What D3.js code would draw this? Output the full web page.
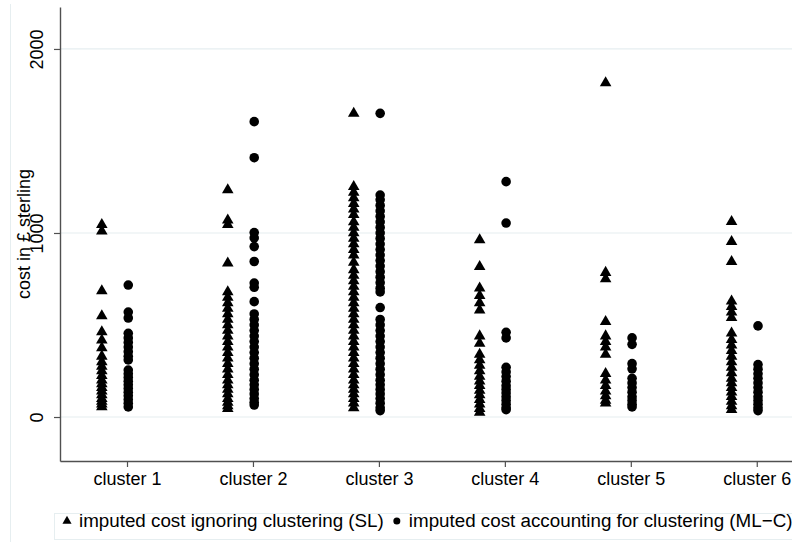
<!DOCTYPE html>
<html>
<head>
<meta charset="utf-8">
<script src="https://cdn.jsdelivr.net/npm/d3@7"></script>
<style>
  body { margin: 0; background: #fff; }
  text { font-family: "Liberation Sans", Arial, sans-serif; fill: #000; }
</style>
</head>
<body>
<div id="visualization"></div>
<script>
// categories on the x axis
const categories = ["cluster 1", "cluster 2", "cluster 3", "cluster 4", "cluster 5", "cluster 6"];

// imputed cost ignoring clustering (SL), one list per cluster
const slCosts = [
    [1045, 1010, 685, 549, 462, 418, 375, 330, 300, 275, 250, 225, 200, 180, 160, 140, 120, 100, 85, 70, 55],
    [1234, 1070, 1045, 836, 680, 650, 620, 590, 560, 530, 500, 470, 440, 410, 380, 350, 320, 290, 260, 230, 200, 175, 150, 125, 100, 80, 60, 45],
    [1650, 1252, 1220, 1190, 1160, 1130, 1100, 1060, 1030, 1000, 970, 940, 910, 880, 840, 800, 770, 740, 710, 680, 650, 620, 590, 560, 530, 500, 470, 440, 410, 380, 350, 320, 290, 260, 230, 200, 175, 150, 125, 100, 75, 50],
    [962, 817, 700, 660, 620, 580, 440, 400, 340, 310, 280, 250, 220, 195, 170, 145, 120, 95, 70, 45, 25],
    [1815, 785, 750, 518, 440, 410, 380, 340, 235, 200, 170, 140, 115, 90, 75],
    [1061, 953, 844, 630, 600, 570, 540, 455, 420, 390, 360, 330, 300, 270, 240, 210, 185, 160, 135, 110, 85, 60, 40]
];

// imputed cost accounting for clustering (ML-C), one list per cluster
const mlcCosts = [
    [717, 570, 538, 455, 430, 405, 380, 355, 330, 310, 255, 235, 215, 195, 175, 155, 135, 115, 95, 75, 55],
    [1605, 1409, 1002, 973, 926, 845, 728, 705, 627, 560, 530, 500, 470, 440, 410, 380, 350, 320, 290, 260, 230, 200, 175, 150, 125, 100, 80, 65],
    [1650, 1206, 1180, 1150, 1120, 1090, 1060, 1030, 1000, 970, 940, 910, 880, 850, 820, 790, 760, 730, 700, 680, 595, 530, 500, 470, 440, 410, 380, 350, 320, 290, 260, 230, 200, 175, 150, 125, 100, 75, 50, 35],
    [1279, 1054, 460, 430, 270, 245, 220, 195, 170, 150, 130, 110, 90, 70, 50, 40],
    [430, 395, 290, 262, 210, 185, 160, 135, 110, 90, 70, 55],
    [495, 285, 260, 235, 210, 185, 160, 135, 110, 90, 70, 50, 35]
];

const yTicks = [0, 1000, 2000];
const yTitle = "cost in £ sterling";
const legendLabels = ["imputed cost ignoring clustering (SL)", "imputed cost accounting for clustering (ML\u2212C)"];

function createStripChart() {
    const width = 792;
    const height = 542;
    const fontSize = 18;
    const legendFontSize = 18.8;
    const gridColor = "#e6eef0";
    const axisColor = "#505050";

    const svg = d3.select("#visualization")
        .append("svg")
        .attr("width", width)
        .attr("height", height);

    // faint outline of the graph region
    svg.append("line")
        .attr("x1", 10.5).attr("x2", 10.5)
        .attr("y1", 4).attr("y2", height)
        .attr("stroke", gridColor);

    // scales: cluster index -> x, cost -> y
    const xScale = d3.scaleLinear()
        .domain([0.468, 6.78])
        .range([60, 855]);

    const yScale = d3.scaleLinear()
        .domain([-239, 2228])
        .range([461, 7]);

    // grid lines
    svg.append("g")
        .selectAll("line")
        .data(yTicks)
        .enter()
        .append("line")
        .attr("x1", 61).attr("x2", width)
        .attr("y1", d => yScale(d)).attr("y2", d => yScale(d))
        .attr("stroke", gridColor)
        .attr("stroke-width", 1.2);

    // y axis
    const yAxis = svg.append("g")
        .attr("transform", "translate(60,0)")
        .call(d3.axisLeft(yScale).tickValues(yTicks).tickSize(6).tickSizeOuter(0).tickFormat(d3.format("d")));
    yAxis.select(".domain").attr("stroke", axisColor).attr("stroke-width", 1.4);
    yAxis.selectAll(".tick line").attr("stroke", axisColor).attr("stroke-width", 1.2);
    yAxis.selectAll(".tick text")
        .attr("x", 0).attr("dy", 0)
        .attr("transform", "translate(-17,0) rotate(-90)")
        .attr("text-anchor", "middle")
        .style("font-size", fontSize + "px")
        .style("font-family", "'Liberation Sans', Arial, sans-serif")
        .attr("fill", "#000");

    // x axis
    const xAxis = svg.append("g")
        .attr("transform", "translate(0,461)")
        .call(d3.axisBottom(xScale)
            .tickValues(d3.range(1, categories.length + 1))
            .tickSize(6).tickSizeOuter(0)
            .tickFormat(d => categories[d - 1]));
    xAxis.select(".domain").attr("stroke", axisColor).attr("stroke-width", 1.4);
    xAxis.selectAll(".tick line").attr("stroke", axisColor).attr("stroke-width", 1.2);
    xAxis.selectAll(".tick text")
        .attr("y", 24).attr("dy", 0)
        .style("font-size", fontSize + "px")
        .style("font-family", "'Liberation Sans', Arial, sans-serif")
        .attr("fill", "#000");

    // y title
    svg.append("text")
        .attr("transform", `translate(30,${(461 + 7) / 2}) rotate(-90)`)
        .attr("text-anchor", "middle")
        .style("font-size", fontSize + "px")
        .text(yTitle);

    const triangle = d3.symbol().type(d3.symbolTriangle).size(58);

    // SL triangles, left of the tick
    const slPoints = slCosts.flatMap((vals, i) => vals.map(v => ({ c: i + 1, v })));
    svg.append("g")
        .selectAll("path")
        .data(slPoints)
        .enter()
        .append("path")
        .attr("d", triangle)
        .attr("transform", d => `translate(${xScale(d.c - 0.2)},${yScale(d.v)})`)
        .attr("fill", "#000");

    // ML-C circles, at the tick
    const mlcPoints = mlcCosts.flatMap((vals, i) => vals.map(v => ({ c: i + 1, v })));
    svg.append("g")
        .selectAll("circle")
        .data(mlcPoints)
        .enter()
        .append("circle")
        .attr("cx", d => xScale(d.c + 0.01))
        .attr("cy", d => yScale(d.v))
        .attr("r", 4.8)
        .attr("fill", "#000");

    // legend
    const legend = svg.append("g");
    legend.append("rect")
        .attr("x", 54.5).attr("y", 513.5)
        .attr("width", 800).attr("height", 26)
        .attr("fill", "none")
        .attr("stroke", gridColor);

    legend.append("path")
        .attr("d", d3.symbol().type(d3.symbolTriangle).size(36))
        .attr("transform", "translate(67,521)")
        .attr("fill", "#000");
    const t1 = legend.append("text")
        .attr("x", 79).attr("y", 527)
        .style("font-size", legendFontSize + "px")
        .text(legendLabels[0]);
    const end1 = 79 + t1.node().getComputedTextLength();

    legend.append("circle")
        .attr("cx", end1 + 13).attr("cy", 521)
        .attr("r", 3.5)
        .attr("fill", "#000");
    legend.append("text")
        .attr("x", end1 + 25).attr("y", 527)
        .style("font-size", legendFontSize + "px")
        .text(legendLabels[1]);
}

createStripChart();
</script>
</body>
</html>
